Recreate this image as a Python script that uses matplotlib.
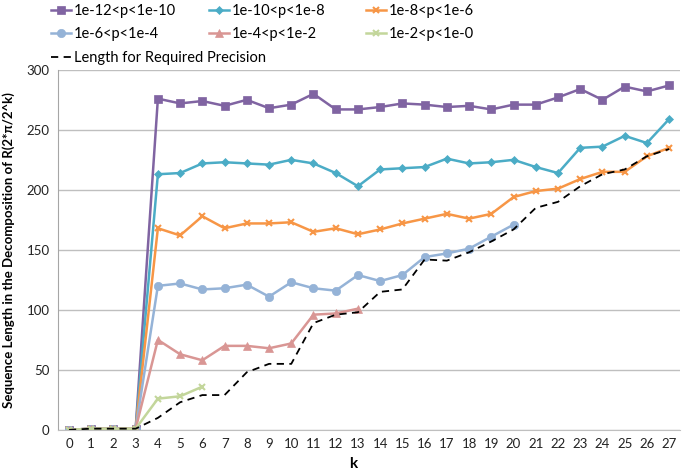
import numpy as np
import matplotlib
matplotlib.use("Agg")
import matplotlib.pyplot as plt

plt.rcParams["font.family"] = ["Lato", "DejaVu Sans"]

k = list(range(28))

# valores (k = 0..27)
p12_10 = [0, 1, 1, 1, 276, 272, 274, 270, 275, 268, 271, 280, 267, 267,
          269, 272, 271, 269, 270, 267, 271, 271, 277, 284, 275, 286, 282, 287]
p10_8 = [0, 1, 1, 1, 213, 214, 222, 223, 222, 221, 225, 222, 214, 203,
         217, 218, 219, 226, 222, 223, 225, 219, 214, 235, 236, 245, 239, 259]
p8_6 = [0, 1, 1, 1, 168, 162, 178, 168, 172, 172, 173, 165, 168, 163,
        167, 172, 176, 180, 176, 180, 194, 199, 201, 209, 215, 215, 228, 235]
p6_4 = [0, 1, 1, 1, 120, 122, 117, 118, 121, 111, 123, 118, 116, 129,
        124, 129, 144, 147, 151, 161, 171]
p4_2 = [0, 1, 1, 1, 75, 63, 58, 70, 70, 68, 72, 96, 97, 101]
p2_0 = [0, 1, 1, 1, 26, 28, 36]
requerida = [0, 1, 1, 1, 10, 23, 29, 29, 48, 55, 55, 89, 96, 98,
             115, 117, 142, 141, 148, 157, 167, 185, 190, 203, 213, 217, 228, 234]

series = [
    ("1e-12<p<1e-10", p12_10, "#8064A2", "s", 6),
    ("1e-10<p<1e-8", p10_8, "#4BACC6", "D", 4.5),
    ("1e-8<p<1e-6", p8_6, "#F79646", "x", 5),
    ("1e-6<p<1e-4", p6_4, "#95B3D7", "o", 6),
    ("1e-4<p<1e-2", p4_2, "#D99694", "^", 6),
    ("1e-2<p<1e-0", p2_0, "#C3D69B", "x", 5),
]

fig = plt.figure(figsize=(6.97, 4.75), dpi=100)
ax = fig.add_axes([0.083, 0.095, 0.893, 0.758])

lineas = {}
for nombre, vals, color, marca, ms in series:
    (ln,) = ax.plot(k[:len(vals)], vals, color=color, lw=1.8, marker=marca,
                    markersize=ms, markeredgewidth=1.5 if marca == "x" else 0.5,
                    markeredgecolor=color, label=nombre)
    lineas[nombre] = ln
(lreq,) = ax.plot(k, requerida, color="black", lw=1.3, ls=(0, (4, 3)),
                  label="Length for Required Precision")

ax.set_xlim(-0.5, 27.5)
ax.set_ylim(0, 300)
ax.set_yticks(range(0, 301, 50))
ax.set_xticks(k)
ax.tick_params(length=0, labelsize=9.5, colors="#222222", pad=6)
ax.grid(axis="y", color="#BFBFBF", lw=1)
ax.set_axisbelow(True)
for lado in ["top", "right"]:
    ax.spines[lado].set_visible(False)
ax.spines["left"].set_color("#A6A6A6")
ax.spines["bottom"].set_color("#BFBFBF")

ax.set_xlabel("k", fontsize=11, fontweight="bold")
ax.xaxis.set_label_coords((353 - 58) / 622, -0.075)
ax.set_ylabel("Sequence Length in the Decomposition of R(2*π/2^k)",
              fontsize=9.5, fontweight="bold", labelpad=8)

# leyenda en tres columnas separadas, como en el original
cols = [
    ([lineas["1e-12<p<1e-10"], lineas["1e-6<p<1e-4"], lreq], 48),
    ([lineas["1e-10<p<1e-8"], lineas["1e-4<p<1e-2"]], 206),
    ([lineas["1e-8<p<1e-6"], lineas["1e-2<p<1e-0"]], 363),
]
for handles, x0 in cols:
    fig.legend(handles=handles, labels=[h.get_label() for h in handles],
               loc="upper left", bbox_to_anchor=(x0 / 697, 1 - 1 / 475),
               frameon=False, fontsize=10.5, handlelength=1.4, handletextpad=0.15,
               labelspacing=0.65, borderaxespad=0, borderpad=0.2)

fig.savefig("out.png", dpi=100)
